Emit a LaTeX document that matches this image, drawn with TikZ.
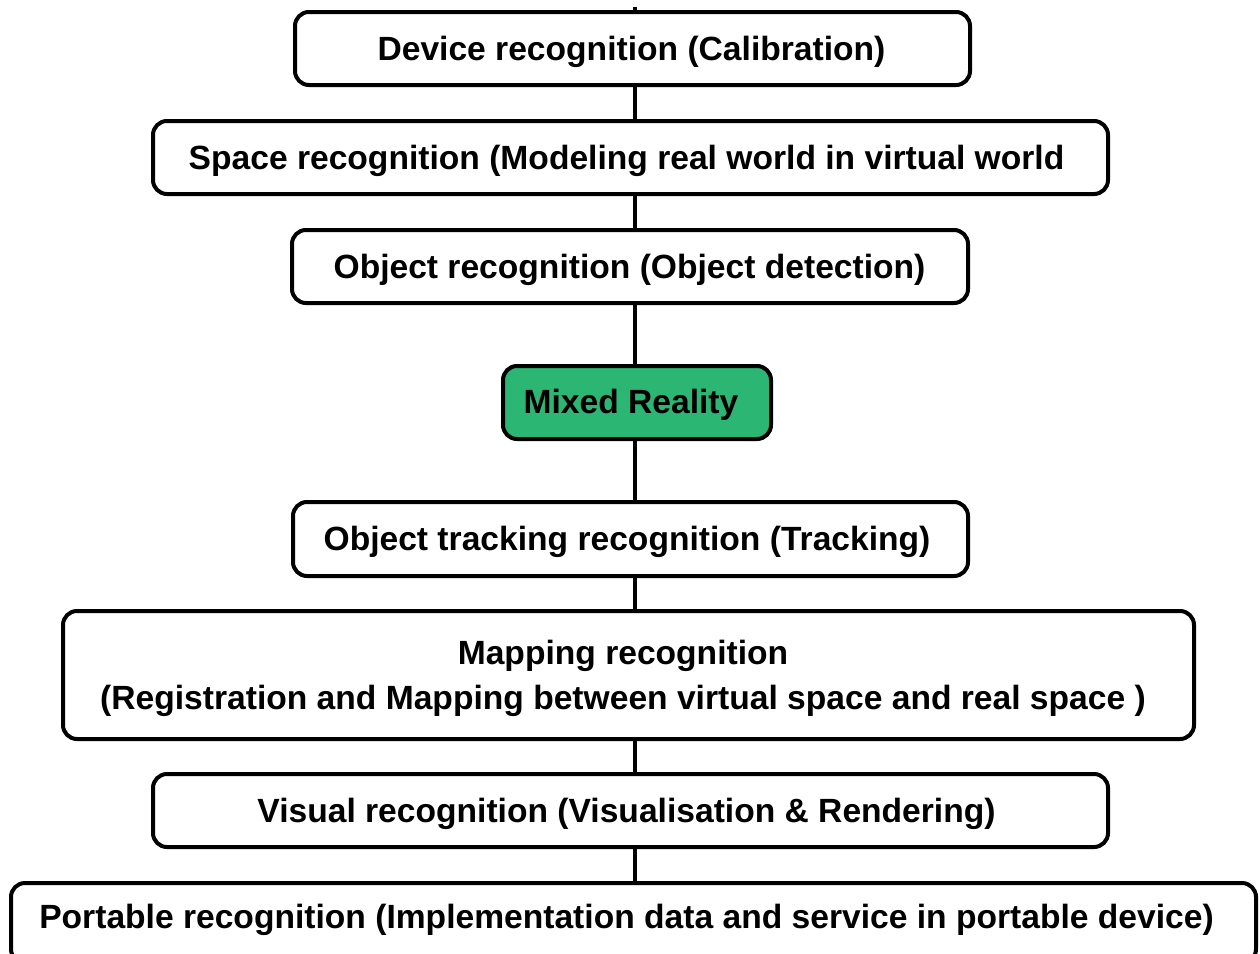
\documentclass[tikz,border=0pt]{standalone}
\usepackage{fontspec}
\setmainfont{Liberation Sans}
\begin{document}
\begin{tikzpicture}[x=1pt,y=-1pt,
  stage/.style={draw=black, line width=4pt, rounded corners=14pt, fill=white,
    inner sep=0pt},
  core/.style={stage, fill=mrgreen},
  spine/.style={draw=black, line width=4pt},
  lbl/.style={font=\fontsize{33.6}{45}\selectfont\bfseries, align=center, inner sep=0pt}]
\definecolor{mrgreen}{RGB}{43,182,115}
\useasboundingbox (0,0) rectangle (1260,953);
\clip (0,0) rectangle (1260,953);

% stages of mixed reality, top to bottom
\node[stage, minimum width=675pt, minimum height=73pt] (dev)  at (632.5,48.5) {};
\node[stage, minimum width=955pt, minimum height=73pt] (spc)  at (630.5,157.5) {};
\node[stage, minimum width=676pt, minimum height=73pt] (obj)  at (630,266.5) {};
\node[core,  minimum width=268pt, minimum height=73pt] (mr)   at (637,402.5) {};
\node[stage, minimum width=675pt, minimum height=74pt] (trk)  at (630.5,539) {};
\node[stage, minimum width=1131pt, minimum height=128pt] (map) at (628.5,675) {};
\node[stage, minimum width=955pt, minimum height=73pt] (vis)  at (630.5,810.5) {};
\node[stage, minimum width=1245pt, minimum height=80pt] (prt) at (633.5,923) {};

% vertical spine joining the stages
\coordinate (top) at (635,7);
\draw[spine] (top) -- (dev.north -| top);
\draw[spine] (dev.south -| top) -- (spc.north -| top);
\draw[spine] (spc.south -| top) -- (obj.north -| top);
\draw[spine] (obj.south -| top) -- (mr.north -| top);
\draw[spine] (mr.south -| top) -- (trk.north -| top);
\draw[spine] (trk.south -| top) -- (map.north -| top);
\draw[spine] (map.south -| top) -- (vis.north -| top);
\draw[spine] (vis.south -| top) -- (prt.north -| top);

% labels
\node[lbl] (tdev) at (631.5,51.5) {Device recognition (Calibration)};
\node[lbl] (tspc) at (626.5,161) {Space recognition (Modeling real world in virtual world};
\node[lbl] (tobj) at (629.5,269.5) {Object recognition (Object detection)};
\node[lbl] (tmr)  at (631,405) {Mixed Reality};
\node[lbl] (ttrk) at (627,542) {Object tracking recognition (Tracking)};
\node[lbl] (tmap) at (623,678) {Mapping recognition\\(Registration and Mapping between virtual space and real space )};
\node[lbl] (tvis) at (626.5,814) {Visual recognition (Visualisation \& Rendering)};
\node[lbl] (tprt) at (626.5,920) {Portable recognition (Implementation data and service in portable device)};
\end{tikzpicture}
\end{document}
